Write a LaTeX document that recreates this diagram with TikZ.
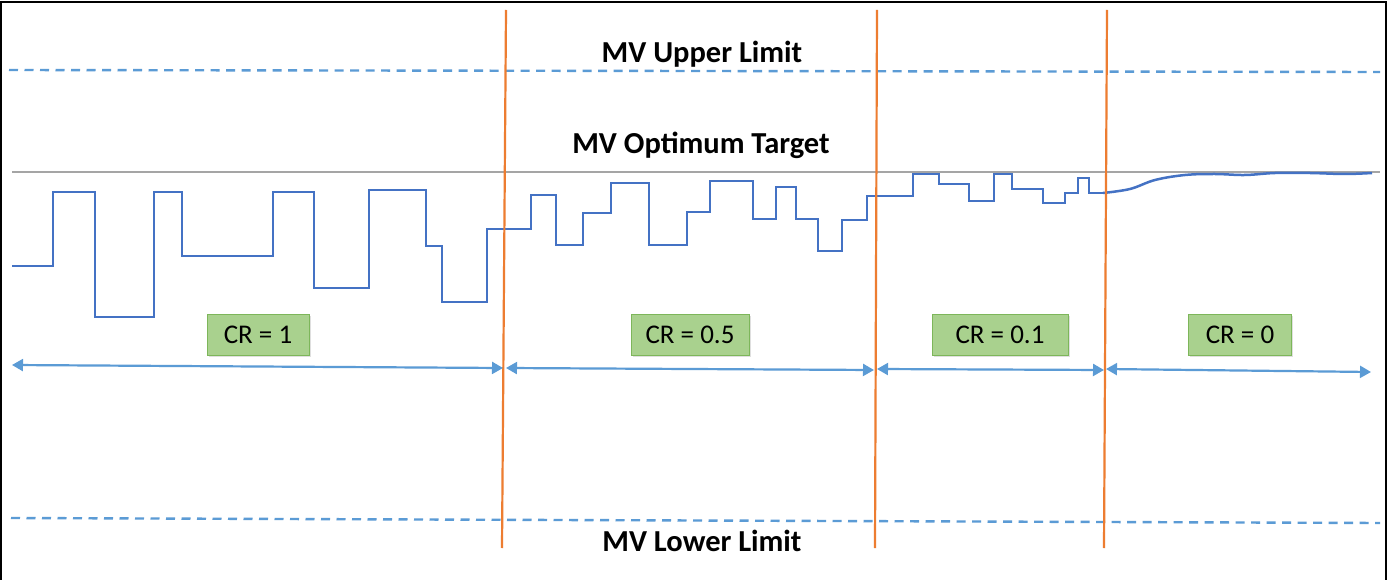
\documentclass[tikz,border=0pt]{standalone}
\usepackage{fontspec}
\setmainfont{Carlito}
\usetikzlibrary{arrows.meta,shadows}
\definecolor{sigblue}{HTML}{4472C4}
\definecolor{limblue}{HTML}{5B9BD5}
\definecolor{divorange}{HTML}{ED7D31}
\definecolor{tgtgray}{HTML}{A5A5A5}
\definecolor{boxfill}{HTML}{A9D18E}
\definecolor{boxline}{HTML}{7DB65A}
\begin{document}
\begin{tikzpicture}[x=1pt,y=-1pt,
  limitline/.style={limblue, line width=2.4pt, dash pattern=on 9pt off 6.5pt},
  divider/.style={divorange, line width=2.2pt},
  signal/.style={sigblue, line width=2.5pt, line join=miter},
  targetline/.style={tgtgray, line width=1.8pt},
  span/.style={limblue, line width=2.2pt, {Triangle[length=11pt,width=12pt]}-{Triangle[length=11pt,width=12pt]}},
  crbox/.style={draw=boxline, fill=boxfill, line width=1pt, minimum height=41pt, inner sep=0pt,
    font=\fontsize{27}{32}\selectfont,
    drop shadow={opacity=0.25, shadow xshift=1.5pt, shadow yshift=-1.5pt}},
  title/.style={font=\bfseries\fontsize{30.5}{36}\selectfont, inner sep=0pt}]
\useasboundingbox (0,0) rectangle (1390,580);
\fill[white] (0,0) rectangle (1390,580);
% frame
\draw[black, line width=2pt] (1,580) -- (1,2) -- (1386,2) -- (1386,580);

% limit and target lines
\coordinate (ulA) at (9,70);   \coordinate (ulB) at (1380,72);
\coordinate (llA) at (11,518); \coordinate (llB) at (1380,523);
\coordinate (tgA) at (12,172); \coordinate (tgB) at (1380,172);
\draw[limitline] (ulA) -- (ulB);
\draw[limitline] (llA) -- (llB);
\draw[targetline] (tgA) -- (tgB);

% titles
\node[title] (upper) at (702,54) {MV Upper Limit};
\node[title] (target) at (701,145) {MV Optimum Target};
\node[title] (lower) at (702,541) {MV Lower Limit};

% signal
\draw[signal] (12,266) -- (53,266) -- (53,192) -- (95,192) -- (95,317) -- (154,317) -- (154,192)
  -- (182,192) -- (182,256) -- (273,256) -- (273,192) -- (314,192) -- (314,288) -- (369,288)
  -- (369,190) -- (426,190) -- (426,246) -- (442,246) -- (442,302) -- (487,302) -- (487,229)
  -- (531,229) -- (531,195) -- (556,195) -- (556,245) -- (583,245) -- (583,213) -- (611,213)
  -- (611,183) -- (649,183) -- (649,245) -- (687,245) -- (687,212) -- (710,212) -- (710,181)
  -- (753,181) -- (753,219) -- (776,219) -- (776,187) -- (796,187) -- (796,219) -- (818,219)
  -- (818,251) -- (842,251) -- (842,220) -- (867,220) -- (867,196) -- (913,196) -- (913,174)
  -- (939,174) -- (939,184) -- (969,184) -- (969,201) -- (994,201) -- (994,174) -- (1012,174)
  -- (1012,189) -- (1043,189) -- (1043,203) -- (1065,203) -- (1065,193) -- (1078,193)
  -- (1078,178) -- (1089,178) -- (1089,193) -- (1103,193);
\draw[signal] plot[smooth, tension=0.6] coordinates {(1103,193) (1130,189) (1155,180) (1185,175)
  (1215,174) (1245,175) (1275,173) (1310,173) (1345,174) (1372,173)};

% dividers
\coordinate (d1t) at (506,10);  \coordinate (d1b) at (502,548);
\coordinate (d2t) at (877,10);  \coordinate (d2b) at (875,548);
\coordinate (d3t) at (1107,10); \coordinate (d3b) at (1104,548);
\draw[divider] (d1t) -- (d1b);
\draw[divider] (d2t) -- (d2b);
\draw[divider] (d3t) -- (d3b);

% span arrows
\coordinate (a1l) at (12,365);   \coordinate (a1r) at (503,368);
\coordinate (a2l) at (506,368);  \coordinate (a2r) at (874,370);
\coordinate (a3l) at (877,369);  \coordinate (a3r) at (1104,370);
\coordinate (a4l) at (1106,369); \coordinate (a4r) at (1371,372);
\draw[span] (a1l) -- (a1r);
\draw[span] (a2l) -- (a2r);
\draw[span] (a3l) -- (a3r);
\draw[span] (a4l) -- (a4r);

% CR boxes
\node[crbox, minimum width=102pt] (cr1) at (258,335) {CR = 1};
\node[crbox, minimum width=118pt] (cr05) at (690,335) {CR = 0.5};
\node[crbox, minimum width=136pt] (cr01) at (1000,335) {CR = 0.1\hspace{6pt}};
\node[crbox, minimum width=103pt] (cr0) at (1240,335) {CR = 0};
\end{tikzpicture}
\end{document}
